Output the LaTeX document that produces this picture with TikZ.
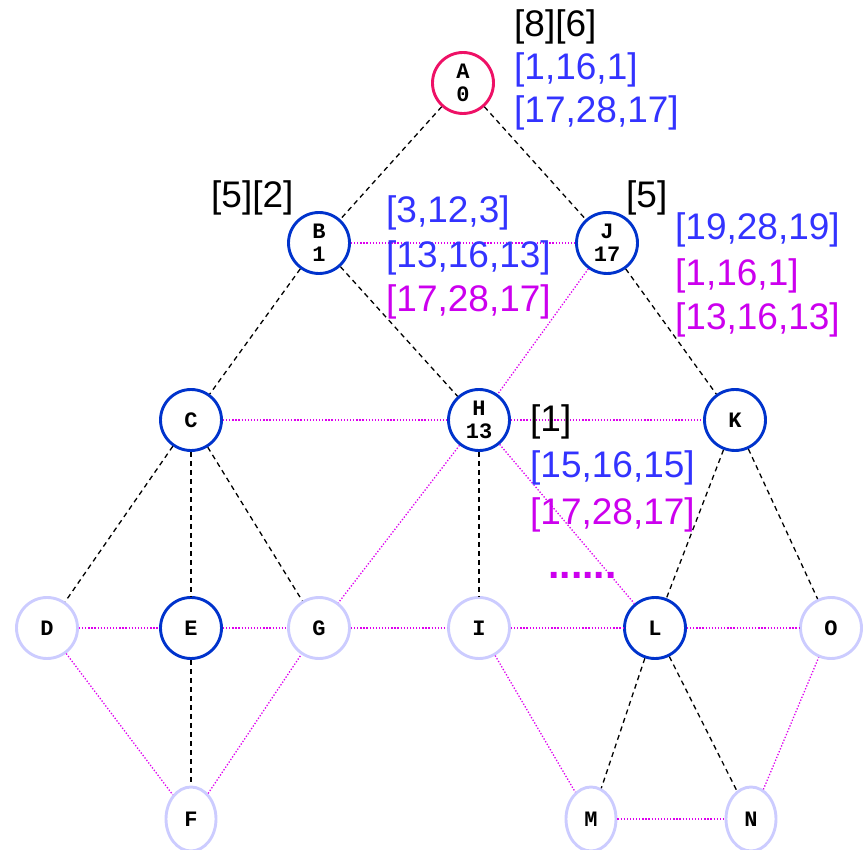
\documentclass[tikz,border=0pt]{standalone}
\usepackage{fontspec}
\setmainfont{Liberation Sans}
\setmonofont{Liberation Mono}
\usetikzlibrary{shapes.geometric}
\definecolor{rootred}{HTML}{EE1166}
\definecolor{visblue}{HTML}{0033CC}
\definecolor{unvisited}{HTML}{CCCCFF}
\definecolor{segblue}{HTML}{3333FF}
\definecolor{segpink}{HTML}{CC00EE}
\definecolor{crosspink}{HTML}{DD00EE}

\begin{document}
\begin{tikzpicture}[
  x=1pt,
  y=-1pt,
  vert/.style={circle, draw=visblue, line width=2.9pt, minimum size=61pt, inner sep=0pt,
    font=\fontsize{22}{23}\selectfont\ttfamily\bfseries, align=center},
  rootvert/.style={vert, draw=rootred},
  freevert/.style={vert, draw=unvisited},
  leafvert/.style={freevert, ellipse, minimum width=50pt, minimum height=64pt},
  tree/.style={dashed, line width=1.3pt, dash pattern=on 5pt off 4pt},
  cross/.style={crosspink, line width=1.3pt, dash pattern=on 1.3pt off 1.8pt},
  seg/.style={anchor=west, inner sep=0pt, font=\fontsize{37}{38}\selectfont}
]
  \useasboundingbox (0,0) rectangle (863,850);

  % vertices
  \node[rootvert] (A) at (463,83) {A\\0};
  \node[vert] (B) at (319,243) {B\\1};
  \node[vert] (J) at (607,243) {J\\17};
  \node[vert] (C) at (191,420) {C};
  \node[vert] (H) at (479,420) {H\\13};
  \node[vert] (K) at (735,420) {K};
  \node[freevert] (D) at (47,628) {D};
  \node[vert] (E) at (191,628) {E};
  \node[freevert] (G) at (319,628) {G};
  \node[freevert] (I) at (479,628) {I};
  \node[vert] (L) at (655,628) {L};
  \node[freevert] (O) at (831,628) {O};
  \node[leafvert] (F) at (191,819) {F};
  \node[leafvert] (M) at (591,819) {M};
  \node[leafvert] (N) at (751,819) {N};

  % tree edges
  \foreach \u/\v in {A/B, A/J, B/C, B/H, J/K, C/D, C/E, C/G, E/F, H/I, K/L, K/O, L/M, L/N}
    \draw[tree] (\u) -- (\v);

  % other edges
  \foreach \u/\v in {B/J, C/H, H/K, D/E, E/G, G/I, I/L, L/O, M/N, J/H, H/G, H/L, D/F, F/G, I/M, N/O}
    \draw[cross] (\u) -- (\v);

  % segment labels
  \node[seg] (lA1) at (514,27) {[8][6]};
  \node[seg, text=segblue] (lA2) at (514,70) {[1,16,1]};
  \node[seg, text=segblue] (lA3) at (514,113) {[17,28,17]};
  \node[seg] (lB1) at (211,198) {[5][2]};
  \node[seg, text=segblue] (lB2) at (386,213) {[3,12,3]};
  \node[seg, text=segblue] (lB3) at (386,258) {[13,16,13]};
  \node[seg, text=segpink] (lB4) at (386,302) {[17,28,17]};
  \node[seg] (lJ1) at (626,198) {[5]};
  \node[seg, text=segblue] (lJ2) at (675,230) {[19,28,19]};
  \node[seg, text=segpink] (lJ3) at (675,276) {[1,16,1]};
  \node[seg, text=segpink] (lJ4) at (675,320) {[13,16,13]};
  \node[seg] (lH1) at (530,422) {[1]};
  \node[seg, text=segblue] (lH2) at (530,468) {[15,16,15]};
  \node[seg, text=segpink] (lH3) at (530,515) {[17,28,17]};
  \node[seg, text=segpink, font=\fontsize{41}{41}\selectfont\bfseries] (lH4) at (548,575) {......};
\end{tikzpicture}
\end{document}
